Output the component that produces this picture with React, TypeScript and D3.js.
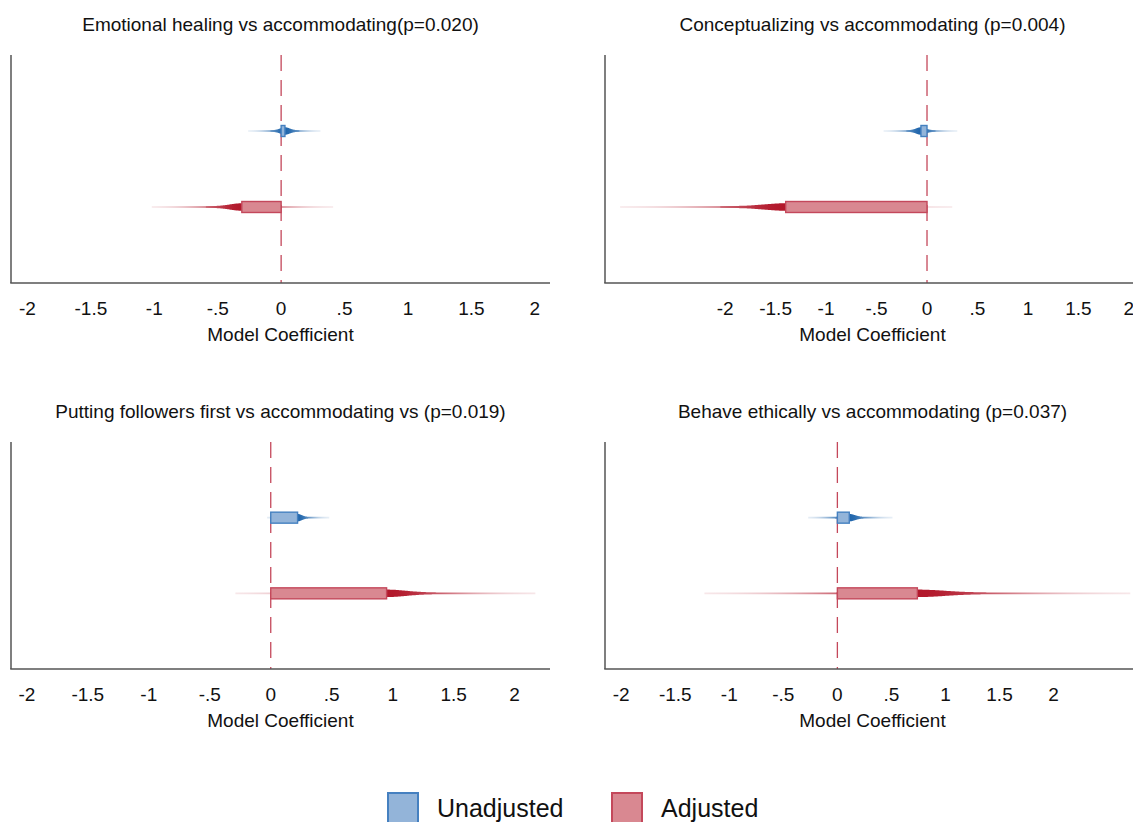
import React, { useEffect, useRef } from 'react';
import * as d3 from 'd3';

// panel titles, in reading order
const panelTitles = [
  'Emotional healing vs accommodating(p=0.020)',
  'Conceptualizing vs accommodating (p=0.004)',
  'Putting followers first vs accommodating vs (p=0.019)',
  'Behave ethically vs accommodating (p=0.037)',
];

const seriesNames = ['Unadjusted', 'Adjusted'];

// coefficient estimates and interval ends, one value per panel
const unadjEst = [0.03, -0.06, 0.22, 0.11];
const unadjLo = [-0.26, -0.43, -0.03, -0.27];
const unadjHi = [0.31, 0.3, 0.48, 0.51];
const adjEst = [-0.31, -1.4, 0.95, 0.74];
const adjLo = [-1.02, -3.04, -0.29, -1.23];
const adjHi = [0.41, 0.25, 2.17, 2.71];

// visible x range of each panel
const xDomains: [number, number][] = [
  [-2.13, 2.12],
  [-3.19, 2.11],
  [-2.13, 2.29],
  [-2.15, 2.8],
];

const tickValues = [-2, -1.5, -1, -0.5, 0, 0.5, 1, 1.5, 2];
const tickLabels = ['-2', '-1.5', '-1', '-.5', '0', '.5', '1', '1.5', '2'];

const darkColors = ['#2166ac', '#b2182b'];
const fillColors = ['#93b4d9', '#d98891'];
const strokeColors = ['#4580c0', '#c4485b'];

const W = 1133;
const H = 822;
const FONT = 'Arial, "Liberation Sans", Helvetica, sans-serif';

export default function App() {
  const ref = useRef<SVGSVGElement>(null);

  useEffect(() => {
    const svg = d3.select(ref.current);
    svg.selectAll('*').remove();
    const defs = svg.append('defs');

    const cols = [[11, 550], [605, 1140]];
    const rows = [[55, 283], [442, 669]];

    panelTitles.forEach((title, i) => {
      const [left, right] = cols[i % 2];
      const [top, bottom] = rows[Math.floor(i / 2)];
      const cx = (left + right) / 2;

      const x = d3.scaleLinear().domain(xDomains[i]).range([left, right]);
      const y = d3.scalePoint<string>().domain(seriesNames).range([top, bottom]).padding(1);

      const g = svg.append('g');

      g.append('text')
        .attr('x', cx)
        .attr('y', top - 24)
        .attr('text-anchor', 'middle')
        .attr('font-family', FONT)
        .attr('font-size', 19)
        .attr('fill', '#111')
        .text(title);

      // zero line
      g.append('line')
        .attr('x1', x(0)).attr('x2', x(0))
        .attr('y1', top).attr('y2', bottom)
        .attr('stroke', '#c4485b')
        .attr('stroke-width', 1.3)
        .attr('stroke-dasharray', '16,9');

      const series = [
        { name: seriesNames[0], est: unadjEst[i], lo: unadjLo[i], hi: unadjHi[i], k: 0 },
        { name: seriesNames[1], est: adjEst[i], lo: adjLo[i], hi: adjHi[i], k: 1 },
      ];

      series.forEach(s => {
        const yc = y(s.name) as number;
        const hw = Math.max(s.est - s.lo, s.hi - s.est);
        const gid = `grad-${i}-${s.k}`;
        const grad = defs.append('linearGradient')
          .attr('id', gid)
          .attr('gradientUnits', 'userSpaceOnUse')
          .attr('x1', x(s.lo)).attr('x2', x(s.hi))
          .attr('y1', 0).attr('y2', 0);
        d3.range(0, 41).forEach(j => {
          const t = j / 40;
          const v = s.lo + t * (s.hi - s.lo);
          const d = (v - s.est) / hw;
          const op = 0.07 + 0.93 * Math.exp(-(d / 0.55) * (d / 0.55));
          grad.append('stop')
            .attr('offset', t)
            .attr('stop-color', darkColors[s.k])
            .attr('stop-opacity', op);
        });

        const pts = d3.range(0, 301).map(j => s.lo + (j / 300) * (s.hi - s.lo));
        const thick = (v: number) => {
          const d = (v - s.est) / hw;
          return 0.85 + 2.9 * Math.exp(-(d / 0.18) * (d / 0.18));
        };
        const area = d3.area<number>()
          .x(v => x(v))
          .y0(v => yc - thick(v))
          .y1(v => yc + thick(v));
        g.append('path')
          .attr('d', area(pts))
          .attr('fill', `url(#${gid})`);

        const x0 = x(Math.min(0, s.est));
        const x1 = x(Math.max(0, s.est));
        g.append('rect')
          .attr('x', x0)
          .attr('y', yc - 5.5)
          .attr('width', Math.max(x1 - x0, 1))
          .attr('height', 11)
          .attr('fill', fillColors[s.k])
          .attr('stroke', strokeColors[s.k])
          .attr('stroke-width', 1.4);
      });

      // axes
      g.append('line')
        .attr('x1', left).attr('x2', left)
        .attr('y1', top).attr('y2', bottom)
        .attr('stroke', '#555').attr('stroke-width', 1.5);
      g.append('line')
        .attr('x1', left - 0.75).attr('x2', right)
        .attr('y1', bottom).attr('y2', bottom)
        .attr('stroke', '#555').attr('stroke-width', 1.5);

      g.selectAll('.tick')
        .data(tickValues)
        .join('text')
        .attr('x', d => x(d))
        .attr('y', bottom + 32)
        .attr('text-anchor', 'middle')
        .attr('font-family', FONT)
        .attr('font-size', 19)
        .attr('fill', '#111')
        .text((d, j) => tickLabels[j]);

      g.append('text')
        .attr('x', cx)
        .attr('y', bottom + 58)
        .attr('text-anchor', 'middle')
        .attr('font-family', FONT)
        .attr('font-size', 19)
        .attr('fill', '#111')
        .text('Model Coefficient');
    });

    // legend
    const legendX = [388, 612];
    seriesNames.forEach((name, k) => {
      svg.append('rect')
        .attr('x', legendX[k])
        .attr('y', 793)
        .attr('width', 30)
        .attr('height', 32)
        .attr('fill', fillColors[k])
        .attr('stroke', strokeColors[k])
        .attr('stroke-width', 2);
      svg.append('text')
        .attr('x', legendX[k] + 49)
        .attr('y', 817)
        .attr('font-family', FONT)
        .attr('font-size', 25)
        .attr('fill', '#111')
        .text(name);
    });
  }, []);

  return (
    <svg
      ref={ref}
      width={W}
      height={H}
      style={{ position: 'absolute', left: 0, top: 0, background: '#fff' }}
    />
  );
}
